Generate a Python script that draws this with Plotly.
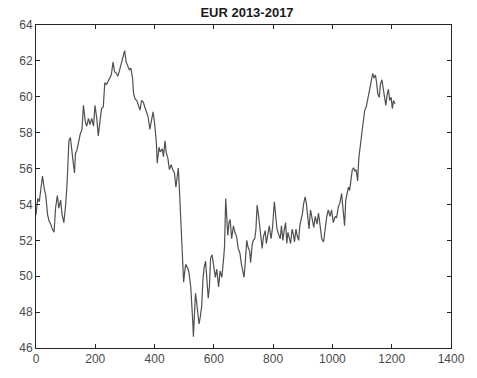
import plotly.graph_objects as go

# Trading-day index and EUR exchange rate, 2013-2017
days = [
    0, 6, 11, 17, 22, 28, 33, 39, 44, 50, 55, 61, 66, 72, 77, 83, 88, 94, 100, 105,
    111, 116, 122, 127, 130, 133, 138, 144, 149, 155, 160, 166, 171, 177, 182, 188, 194, 199, 205, 210,
    216, 221, 227, 232, 238, 243, 249, 254, 260, 265, 271, 276, 282, 288, 293, 299, 304, 310, 315,
    320, 326, 329, 334, 340, 345, 351, 356, 362, 367, 373, 378, 384, 389, 395, 400, 406, 409, 415,
    419, 426, 430, 435, 439, 445, 450, 456, 461, 467, 472, 476, 480, 483, 489, 492, 495, 498, 502,
    505, 511, 516, 522, 525, 529, 531, 534, 538, 541, 545, 550, 554, 559, 563, 567, 572, 576, 581,
    585, 589,
    594, 599, 605, 610, 616, 621, 627, 633, 636, 640, 644, 647, 651, 655, 660, 666, 671, 677, 682,
    688, 693, 699, 702, 707, 711, 715, 721, 724, 729, 733, 738, 742, 746, 751, 755, 760, 763, 767,
    773, 777, 782, 787, 793, 798, 804, 808, 813, 818, 824, 828, 833, 837, 842, 846, 850, 855, 859,
    864, 868, 872, 877, 881, 886, 890, 895, 899, 903, 908, 912, 917, 921,
    926, 931, 937, 942, 948, 953, 959, 964, 970, 975, 981, 986, 992, 997, 1003, 1009, 1014, 1020,
    1025, 1031, 1036, 1041, 1045, 1049, 1054, 1058, 1063, 1067, 1072, 1076, 1080, 1085, 1089, 1094,
    1097, 1100, 1105, 1109, 1114, 1118, 1122, 1127, 1131, 1136, 1140, 1145, 1149, 1153, 1158, 1162,
    1167, 1171, 1175, 1180, 1184, 1189, 1193, 1198, 1202, 1206, 1211,
]

rate = [
    53.43, 54.33, 54.15, 55.04, 55.58, 54.87, 54.50, 53.43, 53.08, 52.90, 52.63, 52.45, 53.79, 54.50,
    53.79, 54.24, 53.43, 52.99, 53.97, 55.22,
    57.55, 57.73, 56.66, 56.12, 55.76, 56.84, 57.01, 57.55, 57.91, 58.18, 59.52, 58.63, 58.36, 58.80,
    58.45, 58.80, 58.36, 59.52, 58.80, 57.82,
    58.63, 59.34, 59.43, 60.78, 60.69, 60.87, 61.04, 61.22, 61.94, 61.40, 61.31, 61.14, 61.49, 61.94,
    62.21, 62.57, 61.94, 61.67, 61.49,
    61.60, 61.00, 60.20, 59.88, 59.79, 59.52, 59.26, 59.79, 59.70, 59.43, 59.07, 58.90, 58.18, 58.72,
    59.16, 58.54, 57.46, 56.30, 57.19,
    56.92, 57.10, 56.66, 57.55, 56.92, 56.57, 55.94, 56.21, 55.94, 55.76, 54.96, 55.49, 56.03, 55.13,
    53.16, 51.91, 50.48, 49.67, 50.30,
    50.66, 50.48, 50.21, 49.40, 48.69, 47.43, 46.63, 48.15, 49.05, 48.69, 47.97, 47.34, 47.70, 48.33,
    49.76, 50.48, 50.84, 49.76, 48.78,
    49.40, 51.01,
    51.19, 50.66, 49.94, 50.39, 49.40, 50.30, 49.94, 51.01, 51.64, 54.33, 52.81, 52.27, 52.99, 53.16,
    52.09, 52.81, 52.45, 52.18, 51.55,
    51.28, 50.66, 50.21, 49.94, 51.01, 52.00, 51.64, 51.37, 50.75, 51.73, 52.00, 52.09, 52.63, 53.97,
    53.34, 52.63, 52.00, 51.55, 52.18,
    52.54, 51.82, 52.45, 52.81, 52.09, 52.72, 54.15, 53.34, 52.63, 52.36, 52.09, 52.81, 52.00, 52.54,
    52.99, 51.82, 52.45, 52.09, 51.82,
    52.63, 52.36, 51.91, 52.63, 52.27, 52.00, 52.81, 53.16, 53.52, 54.06, 54.42, 54.06, 53.34, 52.63,
    53.70, 53.16, 52.72, 53.34, 52.90, 53.52, 52.63, 52.09, 51.91, 52.63, 53.34, 53.70, 53.34, 53.70,
    52.99, 53.34, 53.25, 53.88,
    54.06, 54.60, 53.52, 52.81, 54.24, 54.60, 54.96, 54.78, 55.49, 55.94, 56.03, 55.85, 55.94, 55.31,
    56.57, 57.46,
    57.73, 58.09, 58.72, 59.26, 59.43, 59.79, 60.15, 60.60, 60.95, 61.31, 61.04, 61.22, 60.78, 60.15,
    59.97, 60.69,
    60.95, 60.51, 59.97, 59.52, 60.06, 60.42, 59.79, 59.97, 59.34, 59.79, 59.61,
]

x_ticks = [0, 200, 400, 600, 800, 1000, 1200, 1400]
y_ticks = [46, 48, 50, 52, 54, 56, 58, 60, 62, 64]

fig = go.Figure(
    go.Scatter(
        x=days,
        y=rate,
        mode="lines",
        line=dict(color="#505050", width=1.2),
        hoverinfo="skip",
    )
)

axis_common = dict(
    showgrid=False,
    zeroline=False,
    showline=True,
    linecolor="#262626",
    linewidth=1,
    mirror="ticks",
    ticks="inside",
    ticklen=4,
    tickwidth=1,
    tickcolor="#262626",
    tickfont=dict(family="Liberation Sans, Arial, sans-serif", size=12, color="#4a4a4a"),
)

fig.update_xaxes(range=[0, 1400], tickvals=x_ticks, **axis_common)
fig.update_yaxes(range=[46, 64], tickvals=y_ticks, **axis_common)

fig.update_layout(
    width=477,
    height=378,
    margin=dict(l=36, r=19, t=25, b=18),
    paper_bgcolor="white",
    plot_bgcolor="white",
    showlegend=False,
    title=dict(
        text="<b>EUR 2013-2017</b>",
        x=(36 + 458) / 2 / 477,
        xanchor="center",
        y=1 - 12 / 378,
        yanchor="middle",
        font=dict(family="Liberation Sans, Arial, sans-serif", size=13, color="#1a1a1a"),
    ),
)

fig.write_html("out.html")
